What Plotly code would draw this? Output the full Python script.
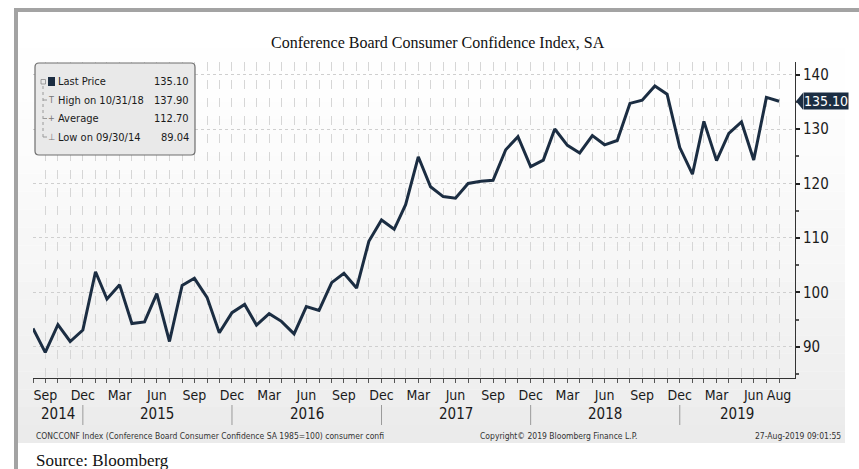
import pandas as pd
import plotly.graph_objects as go

# ---------------- data ----------------
dates = pd.date_range("2014-08-31", periods=61, freq=pd.offsets.MonthEnd())
values = [93.4, 89.0, 94.1, 91.0, 93.1,
          103.8, 98.8, 101.4, 94.3, 94.6, 99.8, 91.0, 101.3, 102.6, 99.1, 92.6, 96.3,
          97.8, 94.0, 96.1, 94.7, 92.4, 97.4, 96.7, 101.8, 103.5, 100.8, 109.4, 113.3,
          111.6, 116.1, 124.9, 119.4, 117.6, 117.3, 120.0, 120.4, 120.6, 126.2, 128.6, 123.1,
          124.3, 130.0, 127.0, 125.6, 128.8, 127.1, 127.9, 134.7, 135.3, 137.9, 136.4, 126.6,
          121.7, 131.4, 124.2, 129.2, 131.3, 124.3, 135.8, 135.1]
labeled_months = {3: "Mar", 6: "Jun", 9: "Sep", 12: "Dec"}
last_label = "Aug"
year_labels = ["2014", "2015", "2016", "2017", "2018", "2019"]
year_breaks = ["2014-12-31", "2015-12-31", "2016-12-31", "2017-12-31", "2018-12-31"]
y_ticks = [90, 100, 110, 120, 130, 140]
legend_labels = ["Last Price", "High on 10/31/18", "Average", "Low on 09/30/14"]
legend_values = ["135.10", "137.90", "112.70", "89.04"]
x_range = ["2014-08-31", "2019-10-09"]
y_range = [84.3, 142.3]

# ---------------- geometry helpers ----------------
W, H = 859, 469
L, R, T, B = 33, 64, 62, 91
PW, PH = W - L - R, H - T - B


def fx(px):
    return (px - L) / PW


def fy(py):
    return (H - B - py) / PH


NARROW = "Liberation Sans Narrow, Arial Narrow, DejaVu Sans Condensed, sans-serif"
SERIF = "Liberation Serif, Times New Roman, serif"
NAVY = "#1b2d42"

ticktext = []
for i, d in enumerate(dates):
    if i == len(dates) - 1:
        ticktext.append(last_label)
    else:
        ticktext.append(labeled_months.get(d.month, ""))

fig = go.Figure()
fig.add_trace(go.Scatter(x=dates, y=values, mode="lines",
                         line=dict(color=NAVY, width=3), hoverinfo="x+y",
                         showlegend=False))

shapes = []
# panel background gradient
top, bot = 12, 443
n = 24
for k in range(n):
    y0 = top + (bot - top) * k / n
    y1 = top + (bot - top) * (k + 1) / n
    c = int(round(255 - (255 - 235) * (k / (n - 1)) ** 1.5))
    shapes.append(dict(type="rect", xref="paper", yref="paper", layer="below",
                       x0=fx(18), x1=fx(845), y0=fy(y1), y1=fy(y0),
                       line=dict(width=0), fillcolor=f"rgb({c},{c},{c})"))
# outer gray frame
shapes.append(dict(type="rect", xref="paper", yref="paper", x0=fx(14), x1=fx(859),
                   y0=fy(12), y1=fy(8), line=dict(width=0), fillcolor="#a3a3a3"))
shapes.append(dict(type="rect", xref="paper", yref="paper", x0=fx(14), x1=fx(18),
                   y0=fy(469), y1=fy(8), line=dict(width=0), fillcolor="#a3a3a3"))

# year separators
for d in year_breaks:
    shapes.append(dict(type="line", xref="x", yref="paper", x0=d, x1=d,
                       y0=fy(425), y1=fy(405), line=dict(color="#9a9a9a", width=1)))

# legend box (rounded)
bx0, bx1, by0, by1, rr = 35, 195, 63, 155, 4


def P(px, py):
    return f"{fx(px):.5f},{fy(py):.5f}"


path = (f"M {P(bx0 + rr, by0)} L {P(bx1 - rr, by0)} Q {P(bx1, by0)} {P(bx1, by0 + rr)} "
        f"L {P(bx1, by1 - rr)} Q {P(bx1, by1)} {P(bx1 - rr, by1)} "
        f"L {P(bx0 + rr, by1)} Q {P(bx0, by1)} {P(bx0, by1 - rr)} "
        f"L {P(bx0, by0 + rr)} Q {P(bx0, by0)} {P(bx0 + rr, by0)} Z")
shapes.append(dict(type="path", xref="paper", yref="paper", path=path,
                   fillcolor="#e9e9e9", line=dict(color="#6e6e6e", width=1.2)))
# legend tree line
shapes.append(dict(type="line", xref="paper", yref="paper", x0=fx(43), x1=fx(43),
                   y0=fy(137), y1=fy(86), line=dict(color="#9a9a9a", width=1, dash="dot")))
for ry in [100, 118.5, 137]:
    shapes.append(dict(type="line", xref="paper", yref="paper", x0=fx(43), x1=fx(47),
                       y0=fy(ry), y1=fy(ry), line=dict(color="#9a9a9a", width=1)))
# navy square
shapes.append(dict(type="rect", xref="paper", yref="paper", x0=fx(48), x1=fx(55),
                   y0=fy(86), y1=fy(77), fillcolor=NAVY, line=dict(width=0)))
# collapse box icon
shapes.append(dict(type="rect", xref="paper", yref="paper", x0=fx(41), x1=fx(45.5),
                   y0=fy(84), y1=fy(79.5), fillcolor="rgba(0,0,0,0)",
                   line=dict(color="#8a8a8a", width=0.8)))

# price tag arrow
last = values[-1]
shapes.append(dict(type="path", xref="paper", yref="y",
                   path=f"M {fx(796):.5f},{last} L {fx(803):.5f},{last + 1.55} "
                        f"L {fx(803):.5f},{last - 1.55} Z",
                   fillcolor=NAVY, line=dict(width=0)))

ann = []
# title
ann.append(dict(text="Conference Board Consumer Confidence Index, SA", xref="paper", yref="paper",
                x=fx(438), y=fy(42), showarrow=False, xanchor="center", yanchor="middle",
                font=dict(family=SERIF, size=16, color="#111111")))
# legend text
rows_y = [81.5, 100, 118.5, 137]
for lab, val, ry in zip(legend_labels, legend_values, rows_y):
    ann.append(dict(text=lab, xref="paper", yref="paper", x=fx(56), y=fy(ry),
                    showarrow=False, xanchor="left", yanchor="middle",
                    font=dict(family=NARROW, size=11, color="#1a1a1a")))
    ann.append(dict(text=val, xref="paper", yref="paper", x=fx(191), y=fy(ry),
                    showarrow=False, xanchor="right", yanchor="middle",
                    font=dict(family=NARROW, size=11, color="#1a1a1a")))
for sym, ry in zip(["T", "+", "\u22a5"], rows_y[1:]):
    ann.append(dict(text=sym, xref="paper", yref="paper", x=fx(51), y=fy(ry),
                    showarrow=False, xanchor="center", yanchor="middle",
                    font=dict(family=NARROW, size=9, color="#777777")))
# price tag
ann.append(dict(text=f"{last:.2f}", xref="paper", yref="y", x=fx(803), y=last,
                showarrow=False, xanchor="left", yanchor="middle", bgcolor=NAVY,
                borderpad=0, font=dict(family=NARROW, size=14, color="#ffffff")))
# year labels
bounds = [pd.Timestamp(x_range[0])] + [pd.Timestamp(d) for d in year_breaks] + [pd.Timestamp(x_range[1])]
for i, yl in enumerate(year_labels):
    mid = bounds[i] + (bounds[i + 1] - bounds[i]) / 2
    ann.append(dict(text=yl, xref="x", yref="paper", x=mid, y=fy(414), showarrow=False,
                    xanchor="center", yanchor="middle",
                    font=dict(family=NARROW, size=15, color="#1a1a1a")))
# footer
ann.append(dict(text="CONCCONF Index (Conference Board Consumer Confidence SA 1985=100) consumer confi",
                xref="paper", yref="paper", x=fx(34), y=fy(436), showarrow=False,
                xanchor="left", yanchor="middle", font=dict(family=NARROW, size=8.5, color="#333333")))
ann.append(dict(text="Copyright\u00a9 2019 Bloomberg Finance L.P.", xref="paper", yref="paper",
                x=fx(558), y=fy(436), showarrow=False, xanchor="center", yanchor="middle",
                font=dict(family=NARROW, size=8.5, color="#333333")))
ann.append(dict(text="27-Aug-2019 09:01:55", xref="paper", yref="paper",
                x=fx(843), y=fy(436), showarrow=False, xanchor="right", yanchor="middle",
                font=dict(family=NARROW, size=8.5, color="#333333")))
ann.append(dict(text="Source: Bloomberg", xref="paper", yref="paper", x=fx(34), y=fy(460),
                showarrow=False, xanchor="left", yanchor="middle",
                font=dict(family=SERIF, size=17, color="#111111")))

fig.update_layout(
    width=W, height=H,
    margin=dict(l=L, r=R, t=T, b=B, pad=0),
    paper_bgcolor="#ffffff", plot_bgcolor="rgba(0,0,0,0)",
    shapes=shapes, annotations=ann, showlegend=False,
    xaxis=dict(type="date", range=x_range, tickmode="array", tickvals=list(dates),
               ticktext=ticktext, showgrid=True, gridcolor="#d6d6d6", griddash="dash",
               gridwidth=1, ticks="outside", ticklen=4, tickcolor="#555555",
               showline=True, linecolor="#333333", linewidth=1, zeroline=False,
               tickangle=0, tickfont=dict(family=NARROW, size=14, color="#1a1a1a")),
    yaxis=dict(side="right", range=y_range, tickmode="array", tickvals=y_ticks,
               showgrid=True, gridcolor="#cfcfcf", griddash="dot", gridwidth=1,
               ticks="outside", ticklen=4, tickcolor="#222222", tickwidth=1.5,
               showline=True, linecolor="#333333", linewidth=1, zeroline=False,
               minor=dict(dtick=5, tick0=85, ticks="outside", ticklen=3, tickcolor="#555555",
                          showgrid=False),
               tickfont=dict(family=NARROW, size=15, color="#1a1a1a")),
)

fig.write_html("out.html", config={"displayModeBar": False},
               post_script="document.body.style.margin='0';")
